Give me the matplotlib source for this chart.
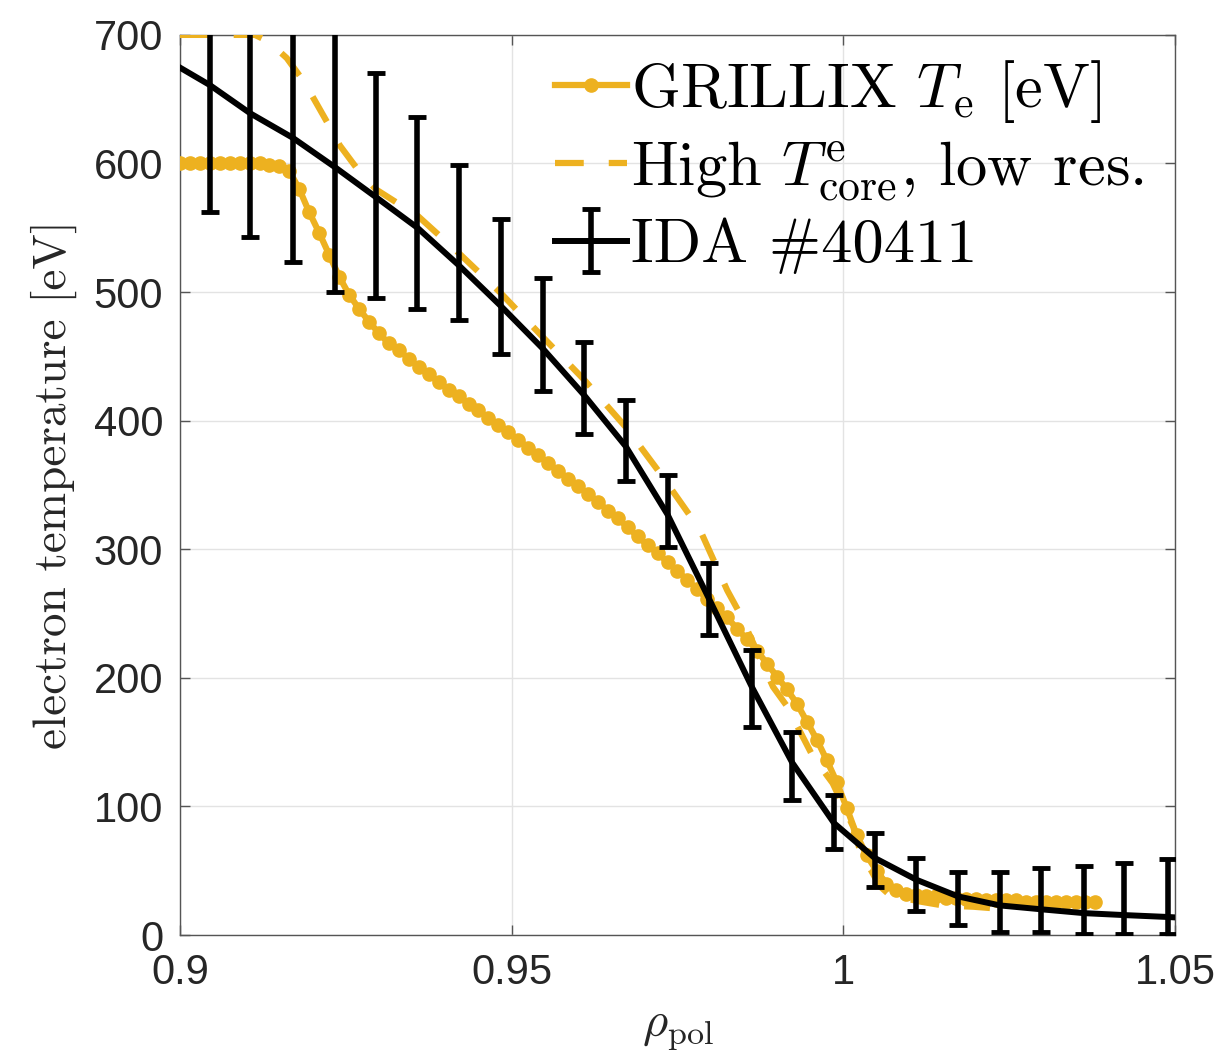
import numpy as np
import matplotlib
matplotlib.use('Agg')
import matplotlib.pyplot as plt

plt.rcParams['mathtext.fontset'] = 'cm'
plt.rcParams['font.family'] = ['Liberation Sans', 'DejaVu Sans']

# GRILLIX T_e profile on its radial grid
rho_grillix = np.linspace(0.9, 1.038, 93)
te_grillix = [600, 600, 600, 600, 600, 600, 600, 600, 600, 599,
              598, 594, 580, 562, 546, 529, 512, 498, 487, 477,
              468, 460, 455, 448, 442, 436, 430, 424, 419, 413,
              408, 402, 397, 391, 385, 379, 373, 367, 361, 355,
              349, 343, 337, 330, 324, 317, 310, 303, 297, 290,
              283, 276, 269, 261, 254, 247, 238, 230, 221, 211,
              201, 191, 180, 166, 152, 136, 119, 99, 78, 62,
              50, 40, 35, 32, 31, 30, 30, 29, 29, 28,
              28, 27, 27, 27, 27, 26, 26, 26, 26, 26,
              26, 26, 26]

# high core temperature, low resolution run
rho_lowres = [0.9000, 0.9113, 0.9133, 0.9161, 0.9185, 0.9200, 0.9222, 0.9241,
              0.9267, 0.9295, 0.9359, 0.9421, 0.9484, 0.9547, 0.9609, 0.9672,
              0.9724, 0.9784, 0.9825, 0.9844, 0.9894, 0.9915, 0.9939, 0.9954,
              0.9984, 1.0015, 1.0025, 1.0055, 1.0070, 1.0116, 1.0150, 1.0196,
              1.0221]
te_lowres = [700, 700, 695, 682, 665, 652, 632, 614,
             596, 580, 559, 530, 499, 465, 432, 395,
             359, 315, 268, 250, 193, 178, 154, 139,
             118, 84, 66, 38, 31, 26, 23, 22,
             21]

# IDA profile for shot 40411 with lower/upper bounds
rho_ida = [0.8982, 0.9045, 0.9106, 0.9170, 0.9234, 0.9295, 0.9358, 0.9420,
           0.9484, 0.9547, 0.9609, 0.9672, 0.9735, 0.9798, 0.9862, 0.9923,
           0.9986, 1.0047, 1.0110, 1.0173, 1.0236, 1.0298, 1.0363, 1.0423,
           1.0490, 1.0553]
te_ida = [680, 661, 639, 620, 597, 574, 550, 521,
          489, 456, 420, 380, 327, 261, 193, 134,
          87, 60, 43, 30, 23, 20, 17, 15.5,
          14, 12]
te_ida_low = [580, 562, 543, 523, 500, 495, 487, 478,
              452, 423, 390, 353, 302, 233, 162, 105,
              67, 37, 19, 8, 2.5, 2, 1, 1,
              1, 1]
te_ida_high = [780, 760, 735, 717, 705, 670, 636, 599,
               557, 511, 461, 416, 358, 289, 222, 158,
               109, 79, 60, 49, 49, 52, 54, 56,
               59, 60]

yellow = '#EDB120'

fig = plt.figure(figsize=(12.24, 10.54), dpi=100)
ax = fig.add_axes([0.147, 0.1129, 0.813, 0.854])

ax.plot(rho_grillix, te_grillix, '-', color=yellow, lw=4.5, marker='o',
        ms=9.5, mec=yellow, mfc=yellow, zorder=3,
        label=r'GRILLIX $T_\mathrm{e}$ [eV]')
ax.plot(rho_lowres, te_lowres, color=yellow, lw=4.5, ls=(0, (4.6, 4.0)),
        zorder=3, label=r'High $T^\mathrm{e}_\mathrm{core}$, low res.')

te_ida = np.array(te_ida)
yerr = [te_ida - np.array(te_ida_low), np.array(te_ida_high) - te_ida]
ax.errorbar(rho_ida, te_ida, yerr=yerr, color='k', lw=4.3, elinewidth=4,
            capsize=6.5, capthick=3.5, zorder=4, label=r'IDA #40411')

ax.set_xlim(0.9, 1.05)
ax.set_ylim(0, 700)
ax.set_xticks([0.9, 0.95, 1.0, 1.05])
ax.set_xticklabels(['0.9', '0.95', '1', '1.05'])
ax.set_yticks(range(0, 701, 100))

ax.grid(True, color='#e3e3e3', lw=1.0, zorder=0)
ax.set_axisbelow(True)
for sp in ax.spines.values():
    sp.set_color('#555555')
    sp.set_linewidth(1.0)
ax.tick_params(direction='in', length=7, width=1, colors='#555555',
               top=True, right=True, labelsize=30, labelcolor='#262626')
ax.tick_params(axis='y', pad=12)
ax.tick_params(axis='x', pad=13)

ax.set_xlabel(r'$\rho_\mathrm{pol}$', fontsize=35, color='#262626', labelpad=10)
ax.set_ylabel('electron temperature [eV]', family='cmr10', fontsize=34,
              color='#262626', labelpad=12)

leg = ax.legend(loc='upper right', bbox_to_anchor=(1.006, 1.016), frameon=False,
                prop={'family': 'cmr10', 'size': 45}, numpoints=1,
                handlelength=1.15, handletextpad=0.06, labelspacing=0.23,
                borderaxespad=0.2)

fig.savefig('out.png', dpi=100)
